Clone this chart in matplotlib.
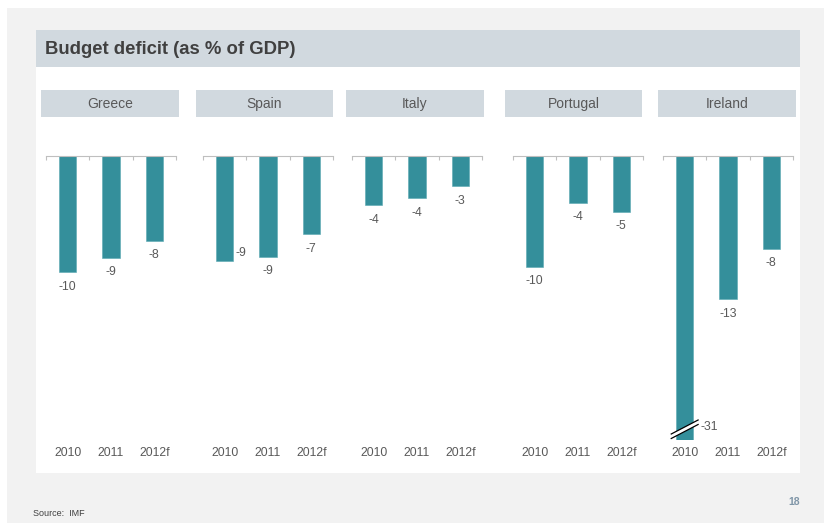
import matplotlib.pyplot as plt
from matplotlib.patches import Rectangle, Polygon
from matplotlib.lines import Line2D

plt.rcParams['font.family'] = ['Liberation Sans', 'DejaVu Sans']

# Budget balance, % of GDP
countries = ["Greece", "Spain", "Italy", "Portugal", "Ireland"]
years = ["2010", "2011", "2012f"]
greece = [-10.4, -9.1, -7.6]
spain = [-9.4, -9.0, -7.0]
italy = [-4.4, -3.8, -2.7]
portugal = [-9.9, -4.2, -5.0]
ireland = [-31.0, -12.8, -8.3]
series = [greece, spain, italy, portugal, ireland]

W, H = 824, 523
BAR = "#348f9b"
TXT = "#595959"
HEAD = "#d1d9df"
PAGE = "#f2f2f2"

fig = plt.figure(figsize=(W / 100, H / 100), dpi=100, facecolor="white")


def box(x0, y0, x1, y1, color):
    # rectangle given in pixel coordinates from the top-left corner
    fig.patches.append(Rectangle((x0 / W, 1 - y1 / H), (x1 - x0) / W, (y1 - y0) / H,
                                 transform=fig.transFigure, facecolor=color,
                                 edgecolor="none", zorder=-5))


box(7, 8, W, H, PAGE)
box(36, 67, 800, 473, "white")
box(36, 30, 800, 67, HEAD)
fig.text(45 / W, 1 - 49 / H, "Budget deficit (as % of GDP)", fontsize=13.3,
         fontweight="bold", color="#404040", va="center", ha="left")
fig.text(33 / W, 1 - 513 / H, "Source:  IMF", fontsize=6.5, color="#404040",
         va="center", ha="left")
fig.text(800 / W, 1 - 502 / H, "18", fontsize=7.5, fontweight="bold",
         color="#8096a8", va="center", ha="right")

headers = [(41, 179), (196, 333), (346, 484), (505, 642), (658, 796)]
axes_left = [46, 203, 352, 513, 663]
ax_w, ax_top, ax_bot = 130, 156, 440
ymin = -25.4
unit = (ax_bot - ax_top) / -ymin  # pixels per percentage point

for name, vals, (h0, h1), left in zip(countries, series, headers, axes_left):
    box(h0, 90, h1, 117, HEAD)
    fig.text((h0 + h1) / 2 / W, 1 - 104 / H, name, fontsize=10, color=TXT,
             ha="center", va="center")

    ax = fig.add_axes([left / W, 1 - ax_bot / H, ax_w / W, (ax_bot - ax_top) / H])
    ax.set_zorder(2)
    ax.set_facecolor("none")
    x = list(range(len(years)))
    ax.bar(x, vals, width=0.4, color=BAR, edgecolor="#5aa8b2", linewidth=0.4)
    ax.set_xlim(-0.5, 2.5)
    ax.set_ylim(ymin, 0)

    for s in ["left", "right", "bottom"]:
        ax.spines[s].set_visible(False)
    ax.spines["top"].set_color("#bfbfbf")
    ax.spines["top"].set_linewidth(0.8)
    ax.set_yticks([])
    ax.xaxis.tick_top()
    ax.set_xticks([-0.5, 0.5, 1.5, 2.5])
    ax.set_xticklabels([])
    ax.tick_params(axis="x", direction="in", length=3, color="#bfbfbf", width=0.8)

    for i, yr in enumerate(years):
        ax.text(i, ymin - 13 / unit, yr, fontsize=8.8, color=TXT,
                ha="center", va="center", clip_on=False)

    for i, v in enumerate(vals):
        lab = f"{v:.0f}"
        if v < ymin:
            # broken bar: mark the cut and put the value beside it
            yb = ymin + 13 / unit
            dx, dy, gap = 0.31, 7 / unit, 4.5 / unit
            ax.add_patch(Polygon([(i - dx, yb - dy), (i + dx, yb + dy),
                                  (i + dx, yb + dy - gap), (i - dx, yb - dy - gap)],
                                 closed=True, facecolor="white", edgecolor="none",
                                 zorder=3, clip_on=False))
            for off in (0, gap):
                ax.add_line(Line2D([i - dx, i + dx], [yb - dy - off, yb + dy - off],
                                   color="black", linewidth=0.9, zorder=4,
                                   clip_on=False))
            ax.text(i + 0.37, yb, lab, fontsize=8.8, color=TXT, ha="left",
                    va="center")
        elif name == "Spain" and i == 0:
            ax.text(i + 0.24, v + 8 / unit, lab, fontsize=8.8, color=TXT,
                    ha="left", va="center")
        else:
            ax.text(i, v - 14.5 / unit, lab, fontsize=8.8, color=TXT,
                    ha="center", va="center")

fig.savefig("out.png", dpi=100, facecolor=fig.get_facecolor())
